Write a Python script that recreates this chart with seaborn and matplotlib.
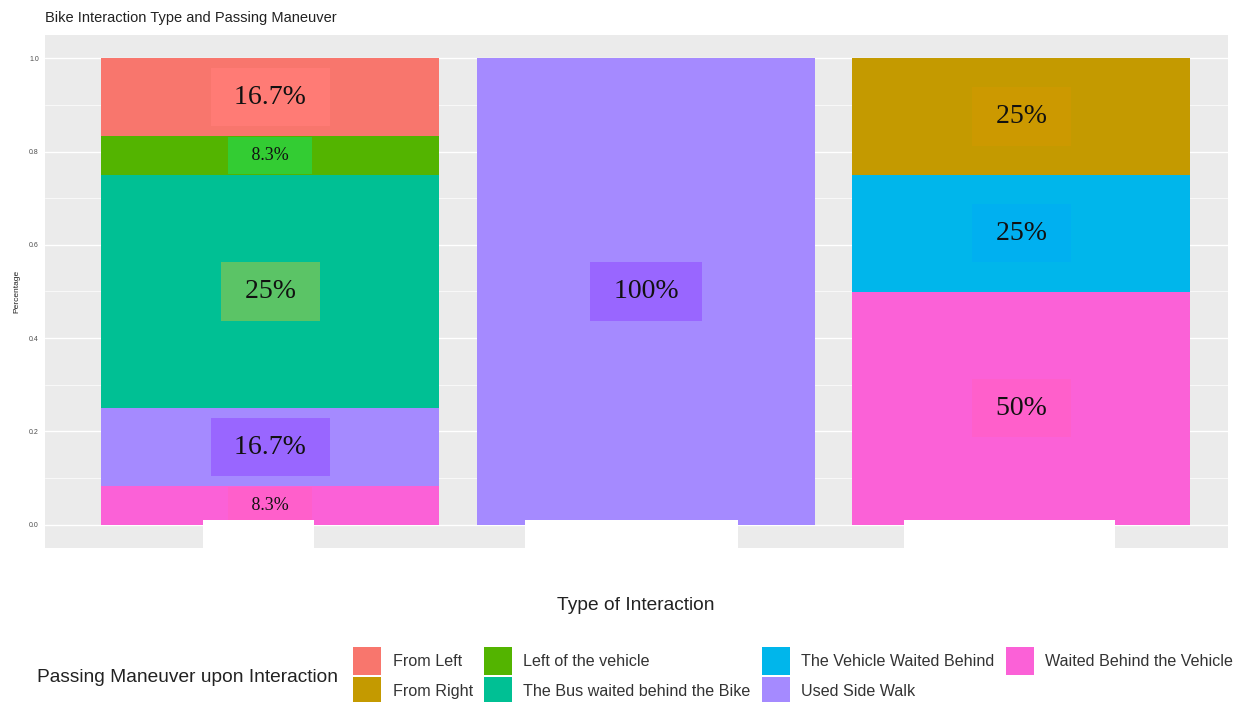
import pandas as pd
import seaborn as sns
import matplotlib.pyplot as plt
import matplotlib.transforms as mtransforms
from matplotlib.patches import Patch, Rectangle
from matplotlib.ticker import MultipleLocator

# %%
# Data (x tick labels are blanked out in the original)
interaction_types = ["Type A", "Type B", "Type C"]
maneuvers = ["From Left", "From Right", "Left of the vehicle", "The Bus waited behind the Bike",
             "The Vehicle Waited Behind", "Used Side Walk", "Waited Behind the Vehicle"]
maneuver_colors = ["#F8766D", "#C49A00", "#53B400", "#00C094", "#00B6EB", "#A58AFF", "#FB61D7"]

# segments, listed top to bottom inside each bar
seg_interaction = ["Type A"] * 5 + ["Type B"] + ["Type C"] * 3
seg_maneuver = ["From Left", "Left of the vehicle", "The Bus waited behind the Bike",
                "Used Side Walk", "Waited Behind the Vehicle",
                "Used Side Walk",
                "From Right", "The Vehicle Waited Behind", "Waited Behind the Vehicle"]
seg_share = [0.167, 0.083, 0.5, 0.167, 0.083, 1.0, 0.25, 0.25, 0.5]
seg_label = ["16.7%", "8.3%", "25%", "16.7%", "8.3%", "100%", "25%", "25%", "50%"]
seg_label_bg = ["#FF7B75", "#33CC33", "#5BC466", "#9966FF", "#FF5FCB",
                "#9966FF", "#CC9900", "#00B0F0", "#FF5FCB"]
seg_label_big = [True, False, True, True, False, True, True, True, True]

df = pd.DataFrame({"interaction": seg_interaction, "maneuver": seg_maneuver,
                   "share": seg_share, "label": seg_label,
                   "bg": seg_label_bg, "big": seg_label_big})

# %%
sns.set_style("darkgrid", {"axes.facecolor": "#EBEBEB", "grid.color": "white"})
plt.rcParams['font.family'] = ['Liberation Sans', 'DejaVu Sans']
palette = dict(zip(maneuvers, maneuver_colors))

fig = plt.figure(figsize=(12.52, 7.02), dpi=100)
ax = fig.add_axes([45 / 1252, 1 - 548 / 702, (1228 - 45) / 1252, (548 - 35) / 702])

sns.histplot(data=df, x="interaction", weights="share", hue="maneuver",
             hue_order=maneuvers, palette=palette, multiple="stack",
             discrete=True, shrink=0.9, alpha=1, linewidth=0, legend=False, ax=ax)

ax.set_xlim(-0.6, 2.55)
ax.set_ylim(-0.05, 1.05)
ax.yaxis.set_major_locator(MultipleLocator(0.2))
ax.yaxis.set_minor_locator(MultipleLocator(0.1))
ax.grid(False)
ax.grid(axis="y", which="major", color="white", lw=1.0)
ax.grid(axis="y", which="minor", color="white", lw=0.5)
ax.set_axisbelow(True)
for s in ax.spines.values():
    s.set_visible(False)

ax.set_xticks(range(len(interaction_types)))
ax.set_xticklabels([""] * len(interaction_types))
ax.tick_params(axis="x", length=0)
ax.tick_params(axis="y", labelsize=5, colors="#4D4D4D", length=2.5, width=0.5, pad=2)
ax.set_yticklabels([f"{v:.1f}" for v in ax.get_yticks()])
ax.set_ylabel("Percentage", fontsize=6, color="#222222", labelpad=6)
ax.set_xlabel("")

# percentage labels on segment centres
df["top"] = 1 - df.groupby("interaction")["share"].cumsum() + df["share"]
df["mid"] = df["top"] - df["share"] / 2
xpos = {k: i for i, k in enumerate(interaction_types)}
for _, r in df.iterrows():
    if r["big"]:
        txt, fs, pad = " " + r["label"] + " ", 20, 0.6
    else:
        txt, fs, pad = "   " + r["label"] + "   ", 13, 0.55
    ax.text(xpos[r["interaction"]], r["mid"], txt,
            ha="center", va="center", family="Liberation Serif",
            fontsize=fs, color="#111111",
            bbox=dict(boxstyle=f"square,pad={pad}", fc=r["bg"], ec="none"))

# white boxes hiding the original category labels
trans = mtransforms.blended_transform_factory(ax.transData, ax.transAxes)
for x0, x1 in [(-0.178, 0.115), (0.679, 1.244), (1.686, 2.25)]:
    ax.add_patch(Rectangle((x0, -0.02), x1 - x0, 0.075, transform=trans,
                           fc="white", ec="none", clip_on=False, zorder=5))

fig.text(45 / 1252, 1 - 18 / 702, "Bike Interaction Type and Passing Maneuver",
         fontsize=10.5, color="#222222", va="center", ha="left")
fig.text(636 / 1252, 1 - 605 / 702, "Type of Interaction", fontsize=13.8,
         ha="center", va="center", color="#222222")

# legend, title on the left as in ggplot bottom legends
handles = [Patch(facecolor=c, edgecolor="none") for c in maneuver_colors]
fig.text(37 / 1252, 1 - 677 / 702, "Passing Maneuver upon Interaction",
         fontsize=13.8, ha="left", va="center", color="#222222")
fig.legend(handles, maneuvers, loc="center left", ncol=4,
           bbox_to_anchor=(345 / 1252, 1 - 676 / 702), frameon=False,
           borderpad=0, handlelength=1.75, handleheight=2.3, handletextpad=0.7,
           labelspacing=0.07, columnspacing=0.7, fontsize=11.6,
           labelcolor="#333333")

fig.savefig("out.png", dpi=100)
